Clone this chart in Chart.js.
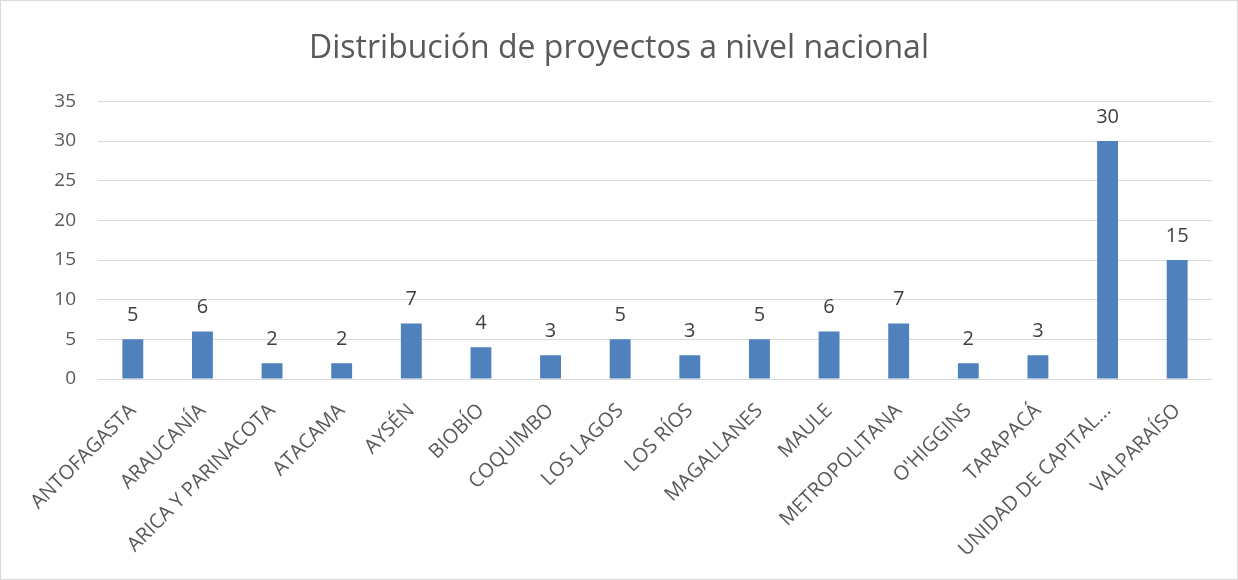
<!DOCTYPE html>
<html>
<head>
<meta charset="utf-8">
<script src="https://cdn.jsdelivr.net/npm/chart.js@4"></script>
<style>
  body { margin: 0; background: #fff; }
  #wrap { width: 1236px; height: 578px; border: 1px solid #d9d9d9; }
</style>
</head>
<body>
<div id="wrap"><canvas id="chart" width="1236" height="578"></canvas></div>
<script>
// ---- datos del gráfico ----
const regiones = ['ANTOFAGASTA', 'ARAUCANÍA', 'ARICA Y PARINACOTA', 'ATACAMA', 'AYSÉN', 'BIOBÍO', 'COQUIMBO', 'LOS LAGOS',
  'LOS RÍOS', 'MAGALLANES', 'MAULE', 'METROPOLITANA', "O'HIGGINS", 'TARAPACÁ', 'UNIDAD DE CAPITAL...', 'VALPARAÍSO'];
const proyectos = [5, 6, 2, 2, 7, 4, 3, 5, 3, 5, 6, 7, 2, 3, 30, 15];
const ticksY = [0, 5, 10, 15, 20, 25, 30, 35];

// etiquetas de valor sobre cada barra
const etiquetasValor = {
  id: 'etiquetasValor',
  afterDatasetsDraw(chart) {
    const ctx = chart.ctx;
    const meta = chart.getDatasetMeta(0);
    ctx.save();
    ctx.font = '20px "Open Sans"';
    ctx.fillStyle = '#404040';
    ctx.textAlign = 'center';
    ctx.textBaseline = 'middle';
    meta.data.forEach(function (bar, i) {
      ctx.fillText(chart.data.datasets[0].data[i], bar.x, bar.y - 24);
    });
    ctx.restore();
  }
};

const ctx = document.getElementById('chart').getContext('2d');
new Chart(ctx, {
  type: 'bar',
  data: {
    labels: regiones,
    datasets: [{
      label: 'Proyectos',
      data: proyectos,
      backgroundColor: '#4f81bd',
      barPercentage: 0.3,
      categoryPercentage: 1
    }]
  },
  options: {
    responsive: false,
    animation: false,
    layout: { padding: { left: 25, right: 25, top: 0, bottom: 0 } },
    plugins: {
      legend: { display: false },
      tooltip: { enabled: false },
      title: {
        display: true,
        text: 'Distribución de proyectos a nivel nacional',
        color: '#595959',
        font: { family: 'Open Sans', size: 32, weight: 'normal' },
        padding: { top: 29, bottom: 33 }
      }
    },
    scales: {
      y: {
        min: 0,
        max: 35,
        afterFit: function (scale) { scale.width = 72; },
        afterBuildTicks: function (scale) { scale.ticks = ticksY.map(v => ({ value: v })); },
        grid: { color: '#d9d9d9', lineWidth: 1, drawTicks: false },
        border: { display: false },
        ticks: {
          padding: 22,
          color: '#595959',
          font: { family: 'Open Sans', size: 19 }
        }
      },
      x: {
        afterFit: function (scale) { scale.height = 200; },
        grid: { display: false },
        border: { display: false },
        ticks: {
          autoSkip: false,
          maxRotation: 45,
          minRotation: 45,
          padding: 12,
          color: '#595959',
          font: { family: 'Open Sans', size: 20 }
        }
      }
    }
  },
  plugins: [etiquetasValor]
});
</script>
</body>
</html>
